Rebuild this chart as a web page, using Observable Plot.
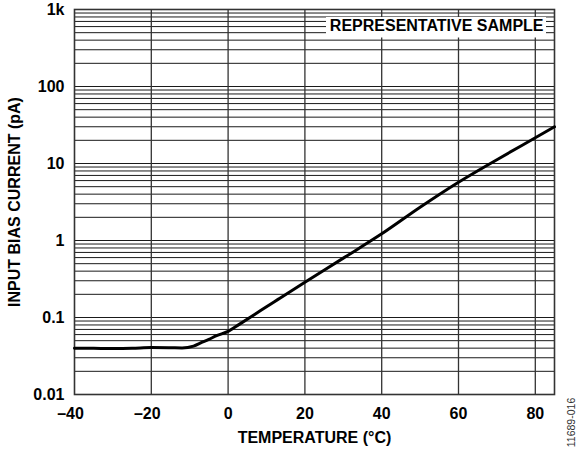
<!DOCTYPE html>
<html>
<head>
<meta charset="utf-8">
<script src="https://cdn.jsdelivr.net/npm/d3@7"></script>
<script src="https://cdn.jsdelivr.net/npm/@observablehq/plot@0.6"></script>
<style>
  html, body { margin: 0; padding: 0; background: #fff; }
</style>
</head>
<body>
<div id="chart"></div>
<script>
// Data
const temps = [-40, -35, -30, -25, -20, -15, -12, -9, -7, -5, -3, 0, 3, 7, 10, 13, 20, 30, 40, 50, 60, 70, 80, 85];
const biasPa = [0.040, 0.0398, 0.0395, 0.0398, 0.0408, 0.0405, 0.0402, 0.0425, 0.047, 0.052, 0.058, 0.066, 0.082, 0.110, 0.138, 0.172, 0.287, 0.59, 1.22, 2.7, 5.7, 11.2, 21.6, 30];

const xTicksNeg = [-40, -20];
const xTicksPos = [0, 20, 40, 60, 80];
const yTicks = [0.01, 0.1, 1, 10, 100, 1000];
const yTickLabels = ["0.01", "0.1", "1", "10", "100", "1k"];
const yGrid = [];
for (let e = -2; e <= 2; e++) for (let m = 1; m <= 9; m++) yGrid.push(+(m * Math.pow(10, e)).toPrecision(3));
yGrid.push(1000);

const xTitle = "TEMPERATURE (°C)";
const yTitle = "INPUT BIAS CURRENT (pA)";
const noteText = "REPRESENTATIVE SAMPLE";
const figId = "11689-016";

const data = temps.map((t, i) => ({t, v: biasPa[i]}));
const fmtX = d => d < 0 ? "–" + Math.abs(d) : String(d);
const fmtY = d => yTickLabels[yTicks.indexOf(d)];

const font = "'Liberation Sans', Arial, Helvetica, sans-serif";
const fs = 16;

const plot = Plot.plot({
  width: 576,
  height: 450,
  marginTop: 9,
  marginRight: 22,
  marginBottom: 56,
  marginLeft: 74,
  style: {fontFamily: font, fontSize: fs + "px", fontWeight: "bold", background: "#fff", color: "#000"},
  x: {domain: [-40, 85]},
  y: {type: "log", domain: [0.01, 1000]},
  marks: [
    Plot.ruleY(yGrid, {stroke: "#1a1a1a", strokeWidth: 1}),
    Plot.ruleX([...xTicksNeg, ...xTicksPos].filter(d => d > -40), {stroke: "#333", strokeWidth: 1.3}),
    Plot.frame({stroke: "#333", strokeWidth: 1.6}),
    // white annotation box
    (index, scales, values, dims) => {
      const r = d3.create("svg:rect")
        .attr("x", dims.width - dims.marginRight - 228)
        .attr("y", dims.marginTop + 8)
        .attr("width", 220)
        .attr("height", 20.5)
        .attr("fill", "#fff");
      return r.node();
    },
    Plot.text([noteText], {frameAnchor: "top-right", textAnchor: "end", lineAnchor: "middle", dx: -11, dy: 16.5, fill: "#000", fontSize: fs, fontWeight: "bold"}),
    Plot.line(data, {x: "t", y: "v", stroke: "#000", strokeWidth: 3, curve: "monotone-x"}),
    Plot.axisY(yTicks, {tickSize: 0, tickPadding: 10, tickFormat: fmtY, label: null, fill: "#000", fontSize: fs}),
    Plot.axisX(xTicksNeg, {tickSize: 0, tickPadding: 13, tickFormat: fmtX, label: null, dx: -4, fill: "#000", fontSize: fs}),
    Plot.axisX(xTicksPos, {tickSize: 0, tickPadding: 13, tickFormat: fmtX, label: null, fill: "#000", fontSize: fs}),
    Plot.text([xTitle], {frameAnchor: "bottom", textAnchor: "middle", lineAnchor: "middle", dy: 43, fill: "#000", fontSize: fs, fontWeight: "bold"}),
    Plot.text([yTitle], {frameAnchor: "left", textAnchor: "middle", lineAnchor: "middle", rotate: -90, dx: -60, fill: "#000", fontSize: fs, fontWeight: "bold"}),
    Plot.text([figId], {frameAnchor: "bottom-right", textAnchor: "middle", lineAnchor: "middle", rotate: -90, dx: 17.5, dy: 28, fill: "#333", fontSize: 10.5, fontWeight: "normal"})
  ]
});
document.getElementById("chart").appendChild(plot);
</script>
</body>
</html>
